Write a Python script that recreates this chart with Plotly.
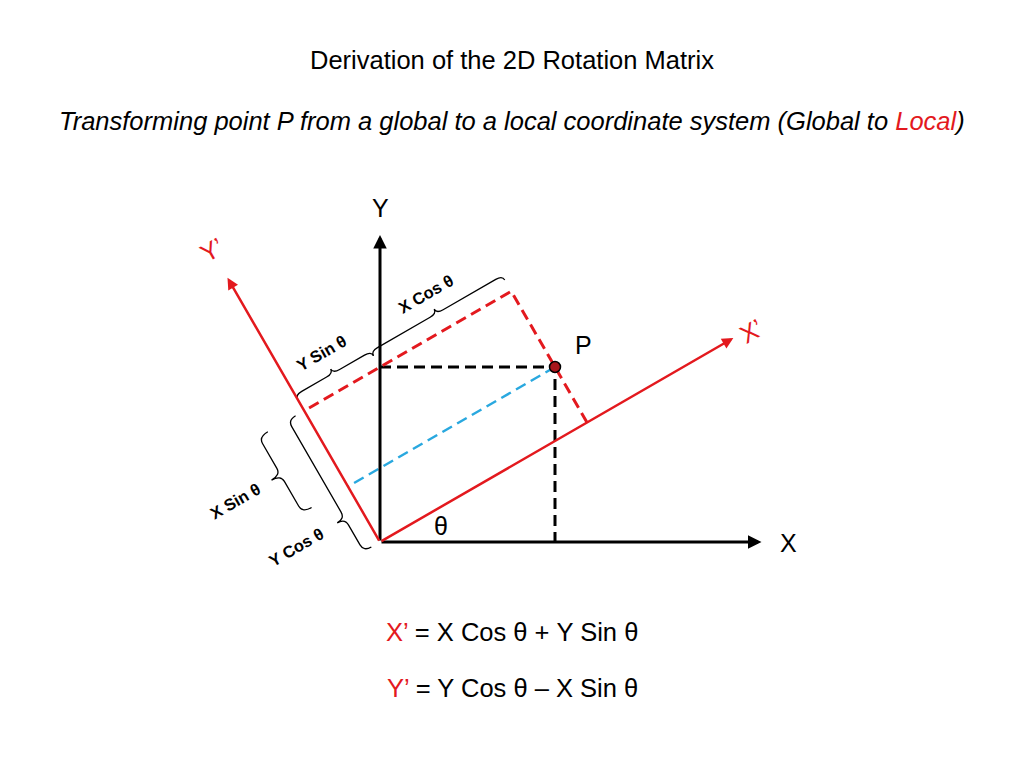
import numpy as np
import plotly.graph_objects as go

# values
theta_deg = 30
P_xy = [3.5, 3.5]            # global X, Y of point P
title = "Derivation of the 2D Rotation Matrix"
subtitle = "Transforming point P from a global to a local coordinate system (Global to "
subtitle_red = "Local"
axis_names = ["X", "Y", "X’", "Y’"]
brace_names = ["X Cos θ", "Y Sin θ", "X Sin θ", "Y Cos θ"]
eq_lhs = ["X’", "Y’"]
eq_rhs = [" = X Cos θ + Y Sin θ", " = Y Cos θ – X Sin θ"]

RED = "#E3191E"
BLUE = "#29A8DF"
FONT = "Liberation Sans, Arial, sans-serif"

# page body has an 8px margin, so the figure is drawn 1008x752
W, H, PAD = 1008, 752, 8

th = np.radians(theta_deg)
c, s = np.cos(th), np.sin(th)
X, Y = P_xy
Xl = X * c + Y * s          # X'
Yl = Y * c - X * s          # Y'


def g(xl, yl):
    # local (X', Y') -> global (X, Y)
    return np.array([xl * c - yl * s, xl * s + yl * c])


fig = go.Figure()


def dashed(pts, color, width=3):
    pts = np.array(pts, dtype=float)
    fig.add_trace(go.Scatter(x=pts[:, 0], y=pts[:, 1], mode="lines",
                             line=dict(color=color, width=width, dash="11px,6px"),
                             hoverinfo="skip", showlegend=False))


dashed([(0, Y), (X, Y), (X, 0)], "black")
dashed([g(Xl, 0), g(Xl, Y * c), g(0, Y * c)], RED)
dashed([(X, Y), g(0, Yl)], BLUE, 2.5)

fig.add_trace(go.Scatter(x=[X], y=[Y], mode="markers",
                         marker=dict(size=11, color="#A8161B", line=dict(color="black", width=1.5)),
                         hoverinfo="skip", showlegend=False))


def axis(tip, color, width):
    fig.add_annotation(x=tip[0], y=tip[1], ax=0, ay=0, xref="x", yref="y",
                       axref="x", ayref="y", text="", showarrow=True,
                       arrowhead=2, arrowsize=0.9, arrowwidth=width,
                       arrowcolor=color, standoff=0)


axis((7.63, 0), "black", 3)
axis((0, 6.14), "black", 3)
axis(g(8.16, 0), RED, 2.5)
axis(g(0, 6.1), RED, 2.5)


def label(pos, text, size, color="black", angle=0, bold=False):
    if bold:
        text = "<b>" + text + "</b>"
    fig.add_annotation(x=pos[0], y=pos[1], xref="x", yref="y", text=text,
                       showarrow=False, textangle=angle,
                       font=dict(family=FONT, size=size, color=color),
                       xanchor="center", yanchor="middle")


label((8.16, -0.02), axis_names[0], 25)
label((0, 6.68), axis_names[1], 25)
label(g(8.54, -0.05), axis_names[2], 25, RED, -theta_deg)
label(g(0.0, 6.74), axis_names[3], 25, RED, -theta_deg)
label((X + 0.56, Y + 0.44), "P", 25)
label(1.27 * np.array([np.cos(th / 2), np.sin(th / 2)]), "θ", 25)


def brace(a, b, n, off, d, f, r=0.15):
    a, b, n = np.array(a, float), np.array(b, float), np.array(n, float)
    L = np.linalg.norm(b - a)
    u = (b - a) / L

    def p(sv, tv):
        q = a + u * sv + n * (off + tv)
        return f"{q[0]:.4f},{q[1]:.4f}"

    t = f * L
    h = d / 2
    path = (f"M{p(0, 0)} Q{p(0, h)} {p(r, h)} L{p(t - r, h)} "
            f"Q{p(t, h)} {p(t, d)} Q{p(t, h)} {p(t + r, h)} "
            f"L{p(L - r, h)} Q{p(L, h)} {p(L, 0)}")
    fig.add_shape(type="path", path=path, xref="x", yref="y",
                  line=dict(color="black", width=1.3))
    return a + u * t + n * (off + d)


n_up = g(0, 1)
n_out = -g(1, 0)
tips = [
    brace((0, Y), g(Xl, Y * c), n_up, 0.26, 0.2, 0.5),
    brace(g(0, Y * c), (0, Y), n_up, 0.26, 0.2, 0.5),
    brace(g(0, Yl), g(0, Y * c), n_out, 0.84, 0.42, 0.5),
    brace((0, 0), g(0, Y * c), n_out, 0.2, 0.35, 0.25),
]
dists = [0.34, 0.38, 0.84, 0.95]
normals = [n_up, n_up, n_out, n_out]
for tip, dist, nn, name in zip(tips, dists, normals, brace_names):
    label(tip + nn * dist, name, 16.5, angle=-theta_deg, bold=True)


def paper_text(py, text, size):
    fig.add_annotation(x=(512 - PAD) / W, y=1 - (py - PAD) / H,
                       xref="paper", yref="paper", text=text,
                       showarrow=False, xanchor="center", yanchor="middle",
                       font=dict(family=FONT, size=size, color="black"))


paper_text(60, title, 25.5)
paper_text(121, f"<i>{subtitle}<span style='color:{RED}'>{subtitle_red}</span>)</i>", 25.5)
for py, lhs, rhs in zip([632, 688], eq_lhs, eq_rhs):
    paper_text(py, f"<span style='color:{RED}'>{lhs}</span>{rhs}", 25.5)

# origin sits at (380, 542) on the page, 50 px per unit
ox, oy, k = 380 - PAD, 542 - PAD, 50
fig.update_layout(
    width=W, height=H,
    margin=dict(l=0, r=0, t=0, b=0),
    paper_bgcolor="white", plot_bgcolor="white",
    xaxis=dict(visible=False, range=[-ox / k, (W - ox) / k]),
    yaxis=dict(visible=False, range=[-(H - oy) / k, oy / k]),
    showlegend=False,
)

fig.write_html("out.html")
